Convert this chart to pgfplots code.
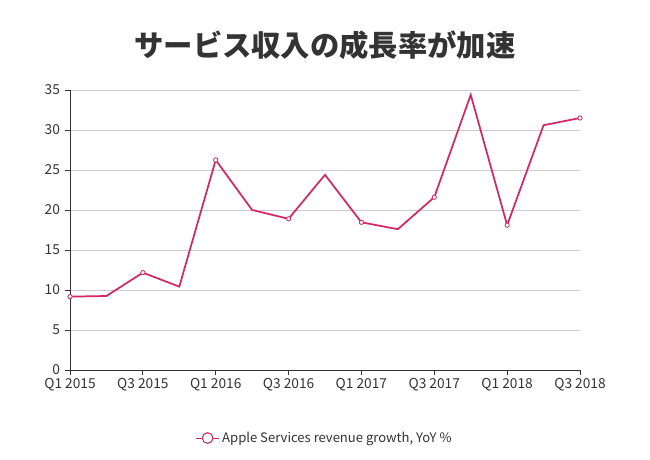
\documentclass[border=0pt]{standalone}
\usepackage{fontspec}
\setmainfont{Noto Sans CJK JP}
\newfontfamily\cjk{Noto Sans CJK JP}
\usepackage{pgfplots}
\pgfplotsset{compat=1.18}
\definecolor{linec}{RGB}{214,39,96}
\definecolor{txt}{RGB}{51,51,51}
\definecolor{gridc}{RGB}{204,204,204}
\begin{document}
\begin{tikzpicture}
\path[use as bounding box] (-52.5pt,-67.5pt) rectangle (435pt,277.5pt);
\node[font=\cjk\bfseries\fontsize{22}{26}\selectfont, text=txt] at (191.25pt,243.75pt) {サービス収入の成長率が加速};
\begin{axis}[
  at={(0pt,0pt)}, anchor=south west,
  width=382.5pt, height=210pt, scale only axis,
  xmin=0, xmax=14, ymin=0, ymax=35,
  axis x line=bottom, axis y line=left,
  axis line style={txt, -},
  xtick={0,2,...,14},
  xticklabels={Q1 2015,Q3 2015,Q1 2016,Q3 2016,Q1 2017,Q3 2017,Q1 2018,Q3 2018},
  ytick={0,5,...,35},
  tick style={txt, line width=0.6pt},
  major tick length=4pt,
  tick align=outside,
  ymajorgrids, grid style={gridc, line width=0.6pt},
  tick label style={font=\fontsize{10.3}{12}\selectfont, text=txt},
  /pgf/number format/assume math mode=true,
  xticklabel style={yshift=1pt},
  clip=false,
  legend style={at={(axis description cs:0.5,-0.243)}, anchor=center, draw=none, fill=none,
    font=\fontsize{9.8}{12}\selectfont, text=txt},
  legend image code/.code={
    \draw[linec, line width=0.8pt] (0,0) -- (0.6cm,0);
    \draw[linec, fill=white, line width=0.8pt] (0.3cm,0) circle (4pt);
  },
]
\addplot[linec, line width=1.3pt, mark=*, mark repeat=2, mark options={fill=white, draw=linec, line width=0.6pt}, mark size=1.6pt]
coordinates {
(0,9.17) (1,9.25) (2,12.17) (3,10.42) (4,26.25) (5,20.0) (6,18.9) (7,24.4)
(8,18.46) (9,17.6) (10,21.6) (11,34.4) (12,18.1) (13,30.6) (14,31.5)
};
\addlegendentry{Apple Services revenue growth, YoY \%}
\end{axis}
\end{tikzpicture}
\end{document}
